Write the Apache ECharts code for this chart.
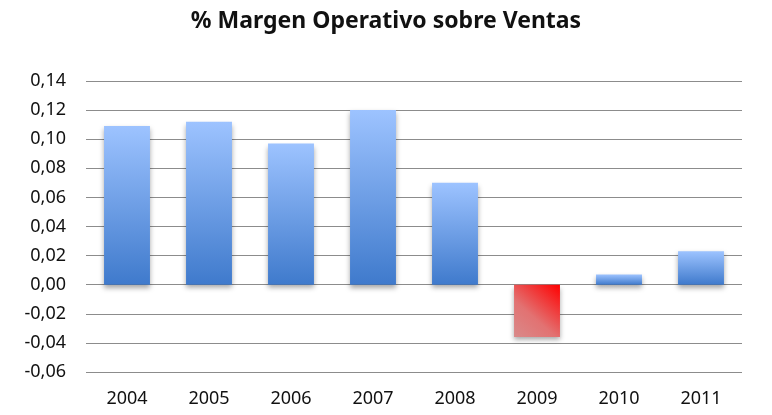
<!DOCTYPE html>
<html>
<head>
<meta charset="utf-8">
<script src="https://cdn.jsdelivr.net/npm/echarts@6/dist/echarts.min.js"></script>
<style>
html,body{margin:0;padding:0;background:#fff;}
#c{width:772px;height:415px;}
</style>
</head>
<body>
<div id="c"></div>
<script>
var categories = ['2004','2005','2006','2007','2008','2009','2010','2011'];
var values = [0.109, 0.112, 0.097, 0.120, 0.070, -0.036, 0.007, 0.023];
var yTicks = {min: -0.06, max: 0.14, interval: 0.02};

var blueGrad = new echarts.graphic.LinearGradient(0, 0, 0, 1, [
  {offset: 0, color: '#9dc3ff'},
  {offset: 1, color: '#3f7acc'}
]);
var redGrad = new echarts.graphic.LinearGradient(1, 0, 0, 1, [
  {offset: 0, color: '#ff0000'},
  {offset: 0.6, color: '#e27272'},
  {offset: 1, color: '#d98a8a'}
]);

var chart = echarts.init(document.getElementById('c'), null, {renderer: 'canvas'});
chart.setOption({
  animation: false,
  backgroundColor: '#ffffff',
  title: {
    text: '% Margen Operativo sobre Ventas',
    left: 'center',
    top: 5,
    textStyle: {fontFamily: 'Noto Sans', fontWeight: 'bold', fontSize: 23, color: '#111'}
  },
  grid: {left: 86, right: 30, top: 81, bottom: 43, containLabel: false},
  xAxis: {
    type: 'category',
    data: categories,
    axisLine: {show: false},
    axisTick: {show: false},
    axisLabel: {fontFamily: 'Noto Sans', fontSize: 18, color: '#111', margin: 18}
  },
  yAxis: {
    type: 'value',
    min: yTicks.min,
    max: yTicks.max,
    interval: yTicks.interval,
    axisLine: {show: false},
    axisTick: {show: false},
    splitLine: {lineStyle: {color: '#8c8c8c', width: 1}},
    axisLabel: {
      fontFamily: 'Noto Sans', fontSize: 18, color: '#111', margin: 20,
      formatter: function (v) { return v.toFixed(2).replace('.', ','); }
    }
  },
  series: [{
    type: 'bar',
    barWidth: '56%',
    data: values.map(function (v) {
      return {
        value: v,
        itemStyle: {
          color: v < 0 ? redGrad : blueGrad,
          shadowColor: 'rgba(0,0,0,0.35)',
          shadowBlur: 5,
          shadowOffsetY: 3
        }
      };
    })
  }]
});
</script>
</body>
</html>
